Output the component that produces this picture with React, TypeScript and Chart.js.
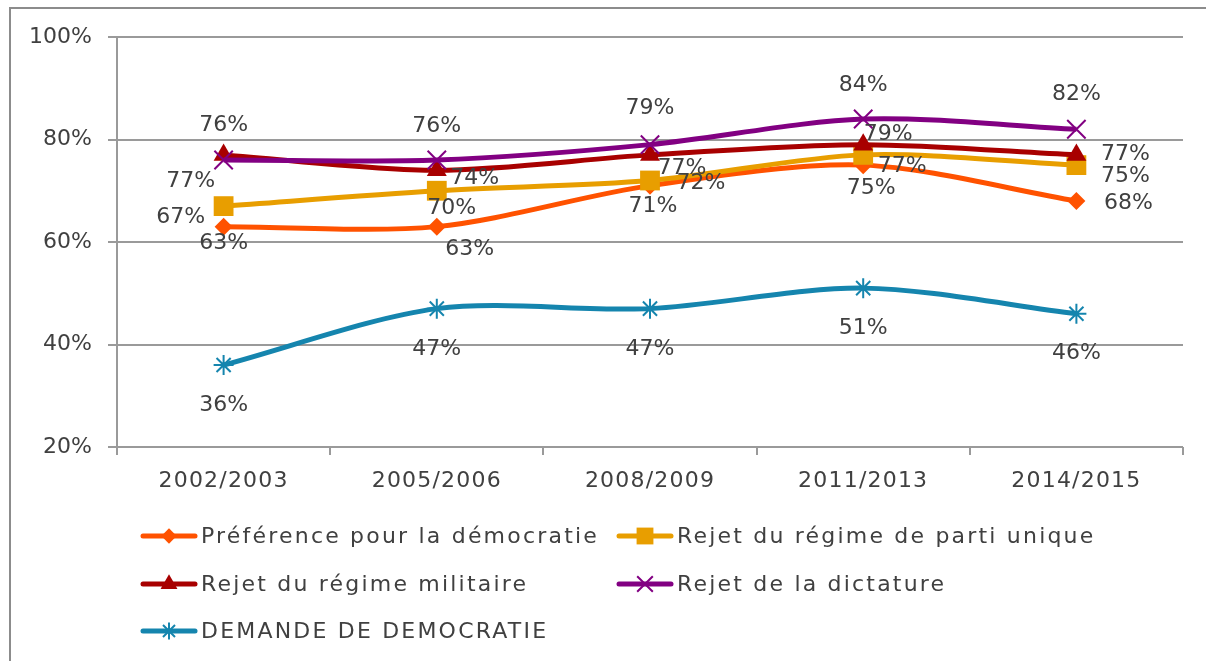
import React, { useEffect, useRef } from "react";
import { Chart, registerables } from "chart.js";

Chart.register(...registerables);

const categories = ["2002/2003", "2005/2006", "2008/2009", "2011/2013", "2014/2015"];
const seriesNames = [
  "Préférence pour la démocratie",
  "Rejet du régime de parti unique",
  "Rejet du régime militaire",
  "Rejet de la dictature",
  "DEMANDE DE DEMOCRATIE",
];
const preferenceDemocratie = [63, 63, 71, 75, 68];
const rejetPartiUnique = [67, 70, 72, 77, 75];
const rejetMilitaire = [77, 74, 77, 79, 77];
const rejetDictature = [76, 76, 79, 84, 82];
const demandeDemocratie = [36, 47, 47, 51, 46];
const yTicks = [20, 40, 60, 80, 100];

// styling (kept separate from data)
const colors = ["#FF5200", "#E89E00", "#A80000", "#820082", "#1585AE"];
const pointStyles = ["rectRot", "rect", "triangle", "crossRot", "star"];
const pointRadii = [9, 14, 11.5, 13, 10];
const labelOffsets = [
  [[0, 16], [33, 22], [3, 20], [8, 22], [52, 1]],
  [[-43, 10], [15, 17], [51, 2], [39, 10], [49, 10]],
  [[-33, 25], [38, 7], [32, 12], [25, -11], [49, -2]],
  [[0, -36], [0, -35], [0, -37], [0, -35], [0, -36]],
  [[0, 39], [0, 40], [0, 40], [0, 39], [0, 39]],
];
const legendSlots = [
  [141, 536],
  [617, 536],
  [141, 584],
  [617, 584],
  [141, 631],
];

const FONT = "'DejaVu Sans', sans-serif";
const TEXT = "#404040";
const GRID = "#9a9a9a";

const framePlugin = {
  id: "frame",
  beforeDraw(chart: any) {
    const ctx = chart.ctx;
    ctx.save();
    ctx.fillStyle = "#ffffff";
    ctx.fillRect(0, 0, chart.width, chart.height);
    ctx.strokeStyle = "#8c8c8c";
    ctx.lineWidth = 2;
    ctx.beginPath();
    ctx.moveTo(1206, 8);
    ctx.lineTo(10, 8);
    ctx.lineTo(10, 661);
    ctx.stroke();
    ctx.restore();
  },
};

const labelsPlugin = {
  id: "pointLabels",
  afterDatasetsDraw(chart: any) {
    const ctx = chart.ctx;
    ctx.save();
    ctx.font = `22px ${FONT}`;
    ctx.fillStyle = TEXT;
    ctx.textAlign = "center";
    ctx.textBaseline = "middle";
    chart.data.datasets.forEach((ds: any, di: number) => {
      const meta = chart.getDatasetMeta(di);
      meta.data.forEach((pt: any, i: number) => {
        const off = labelOffsets[di][i];
        ctx.fillText(ds.data[i] + "%", pt.x + off[0], pt.y + off[1] + 1);
      });
    });
    // category labels
    const xs = chart.scales.x;
    ctx.letterSpacing = "1.2px";
    chart.data.labels.forEach((lab: string, i: number) => {
      ctx.fillText(lab, xs.getPixelForValue(i), chart.chartArea.bottom + 34);
    });
    ctx.restore();
  },
};

function drawPt(ctx: CanvasRenderingContext2D, style: string, r: number, x: number, y: number) {
  ctx.beginPath();
  if (style === "rectRot") {
    ctx.moveTo(x - r, y);
    ctx.lineTo(x, y - r);
    ctx.lineTo(x + r, y);
    ctx.lineTo(x, y + r);
    ctx.closePath();
    ctx.fill();
  } else if (style === "rect") {
    const s = r * Math.SQRT1_2;
    ctx.rect(x - s, y - s, 2 * s, 2 * s);
    ctx.fill();
  } else if (style === "triangle") {
    for (let k = 0; k < 3; k++) {
      const a = (k * 2 * Math.PI) / 3;
      const px = x + Math.sin(a) * r;
      const py = y - Math.cos(a) * r;
      if (k === 0) ctx.moveTo(px, py);
      else ctx.lineTo(px, py);
    }
    ctx.closePath();
    ctx.fill();
  } else if (style === "crossRot") {
    const s = r * Math.SQRT1_2;
    ctx.moveTo(x - s, y - s);
    ctx.lineTo(x + s, y + s);
    ctx.moveTo(x - s, y + s);
    ctx.lineTo(x + s, y - s);
    ctx.stroke();
  } else {
    const s = r * Math.SQRT1_2;
    ctx.moveTo(x, y - r);
    ctx.lineTo(x, y + r);
    ctx.moveTo(x - s, y - s);
    ctx.lineTo(x + s, y + s);
    ctx.moveTo(x - s, y + s);
    ctx.lineTo(x + s, y - s);
    ctx.stroke();
  }
}

const legendPlugin = {
  id: "customLegend",
  afterDraw(chart: any) {
    const ctx = chart.ctx;
    ctx.save();
    chart.data.datasets.forEach((ds: any, di: number) => {
      const [x, y] = legendSlots[di];
      ctx.strokeStyle = ds.borderColor;
      ctx.lineWidth = 5;
      ctx.lineCap = "round";
      ctx.beginPath();
      ctx.moveTo(x + 2, y);
      ctx.lineTo(x + 54, y);
      ctx.stroke();
      ctx.lineCap = "butt";
      ctx.fillStyle = ds.pointBackgroundColor;
      ctx.strokeStyle = ds.pointBorderColor;
      ctx.lineWidth = 2;
      drawPt(ctx, ds.pointStyle, ds.pointRadius * 0.85, x + 28, y);
      ctx.fillStyle = TEXT;
      ctx.font = `22px ${FONT}`;
      ctx.letterSpacing = "2.2px";
      ctx.textAlign = "left";
      ctx.textBaseline = "middle";
      ctx.fillText(ds.label, x + 60, y + 1);
      ctx.letterSpacing = "0px";
    });
    ctx.restore();
  },
};

export default function App() {
  const ref = useRef<HTMLCanvasElement | null>(null);
  useEffect(() => {
    if (!ref.current) return;
    const values = [
      preferenceDemocratie,
      rejetPartiUnique,
      rejetMilitaire,
      rejetDictature,
      demandeDemocratie,
    ];
    const datasets = values.map((data, i) => ({
      label: seriesNames[i],
      data,
      borderColor: colors[i],
      backgroundColor: colors[i],
      pointBackgroundColor: colors[i],
      pointBorderColor: colors[i],
      pointStyle: pointStyles[i],
      pointRadius: pointRadii[i],
      pointBorderWidth: i >= 3 ? 2 : 0,
      borderWidth: 5,
      tension: 0.3,
      fill: false,
      order: 5 - i,
    }));
    const chart = new Chart(ref.current, {
      type: "line",
      data: { labels: categories, datasets },
      plugins: [framePlugin, labelsPlugin, legendPlugin],
      options: {
        animation: false,
        responsive: false,
        maintainAspectRatio: false,
        layout: { padding: { top: 37, right: 23, left: 0, bottom: 0 } },
        plugins: { legend: { display: false }, tooltip: { enabled: false } },
        scales: {
          x: {
            offset: true,
            afterFit: (s: any) => {
              s.height = 214;
            },
            grid: {
              offset: true,
              drawOnChartArea: false,
              drawTicks: true,
              tickLength: 8,
              color: GRID,
              lineWidth: 2,
            },
            border: { display: false },
            ticks: { display: false },
          },
          y: {
            min: 20,
            max: 100,
            afterFit: (s: any) => {
              s.width = 117;
            },
            afterBuildTicks: (s: any) => {
              s.ticks = yTicks.map((v) => ({ value: v }));
            },
            grid: { color: GRID, lineWidth: 2, tickLength: 9 },
            border: { display: true, color: GRID, width: 2 },
            ticks: {
              font: { family: FONT, size: 22 },
              color: TEXT,
              padding: 16,
              callback: (v: any) => v + "%",
            },
          },
        },
      },
    } as any);
    return () => chart.destroy();
  }, []);
  return (
    <div style={{ position: "fixed", left: 0, top: 0, width: 1206, height: 661, background: "#fff" }}>
      <canvas ref={ref} width={1206} height={661} style={{ display: "block" }} />
    </div>
  );
}
